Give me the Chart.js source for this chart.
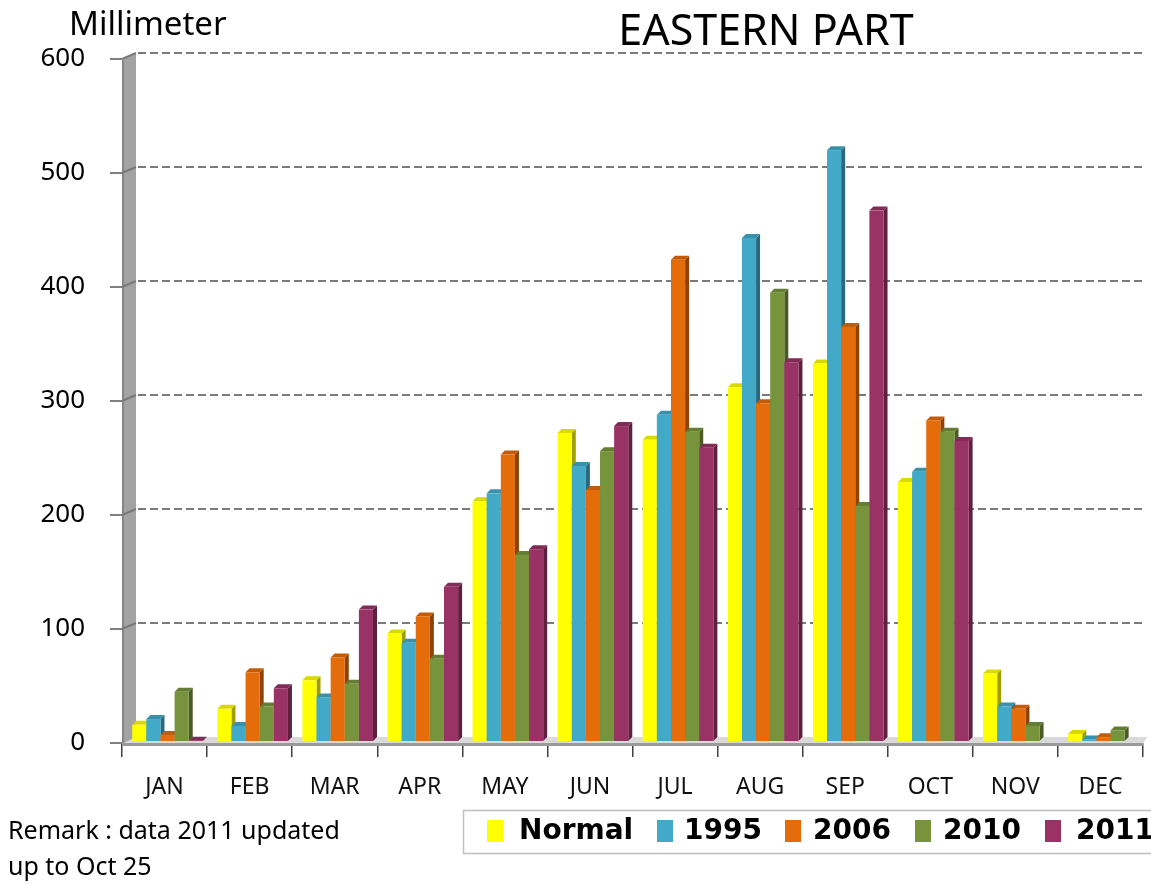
<!DOCTYPE html>
<html>
<head>
<meta charset="utf-8">
<script src="https://cdn.jsdelivr.net/npm/chart.js@4/dist/chart.umd.min.js"></script>
<style>
html,body{margin:0;padding:0;background:#fff;}
#wrap{position:relative;width:1151px;height:884px;}
</style>
</head>
<body>
<div id="wrap"><canvas id="c"></canvas></div>
<script>
const months = ['JAN','FEB','MAR','APR','MAY','JUN','JUL','AUG','SEP','OCT','NOV','DEC'];
const seriesNames = ['Normal','1995','2006','2010','2011'];
const normal = [16,30,55,96,212,272,266,312,333,229,61,8];
const y1995 = [21,15,40,88,219,243,288,443,520,238,32,3];
const y2006 = [7,62,75,111,253,222,424,298,365,283,30,5];
const y2010 = [45,32,52,74,165,256,273,395,208,273,15,11];
const y2011 = [2,48,117,137,170,278,259,334,467,265,null,null];
const yTicks = [0,100,200,300,400,500,600];
const colors = ['#ffff00','#42a9c8','#e46c0a','#77933c','#993366'];
const titleText = 'EASTERN PART';
const unitText = 'Millimeter';
const remarkLines = ['Remark : data 2011 updated','up to Oct 25'];

function shade(hex, f){
  const n = parseInt(hex.slice(1),16);
  const r=(n>>16)&255,g=(n>>8)&255,b=n&255;
  const m=v=>Math.max(0,Math.min(255,Math.round(v*f)));
  return 'rgb('+m(r)+','+m(g)+','+m(b)+')';
}

const DX=4, DY=4, SHIFT=3, WALL=14, BACK=6;

const deco = {
  id:'deco',
  beforeDatasetsDraw(chart){
    const ctx=chart.ctx, a=chart.chartArea, ys=chart.scales.y;
    ctx.save();
    ctx.fillStyle='#d9d9d9';
    ctx.beginPath();
    ctx.moveTo(a.left,a.bottom+1); ctx.lineTo(a.left+WALL,a.bottom-BACK);
    ctx.lineTo(a.right+4,a.bottom-BACK); ctx.lineTo(a.right,a.bottom+1); ctx.closePath(); ctx.fill();
    ctx.strokeStyle='#9a9a9a'; ctx.lineWidth=3;
    ctx.beginPath(); ctx.moveTo(a.left,a.bottom+1.5); ctx.lineTo(a.right,a.bottom+1.5); ctx.stroke();
    ctx.fillStyle='#a3a3a3';
    ctx.beginPath();
    ctx.moveTo(a.left,a.top+1); ctx.lineTo(a.left+WALL,a.top-BACK);
    ctx.lineTo(a.left+WALL,a.bottom-BACK); ctx.lineTo(a.left,a.bottom+1); ctx.closePath(); ctx.fill();
    ctx.strokeStyle='#858585'; ctx.lineWidth=2;
    ctx.beginPath(); ctx.moveTo(a.left+1,a.top+1); ctx.lineTo(a.left+1,a.bottom); ctx.stroke();
    ctx.strokeStyle='#7a7a7a'; ctx.lineWidth=2;
    yTicks.forEach(v=>{
      if(v===0) return;
      const p=ys.getPixelForValue(v);
      ctx.setLineDash([]);
      ctx.beginPath(); ctx.moveTo(a.left,p); ctx.lineTo(a.left+WALL,p-BACK); ctx.stroke();
      ctx.setLineDash([8,4]);
      ctx.beginPath(); ctx.moveTo(a.left+WALL+2,p-BACK); ctx.lineTo(a.right,p-BACK); ctx.stroke();
    });
    ctx.setLineDash([]);
    ctx.restore();
  },
  afterDatasetsDraw(chart){
    const ctx=chart.ctx;
    ctx.save();
    chart.data.datasets.forEach((ds,i)=>{
      const meta=chart.getDatasetMeta(i);
      const c=colors[i];
      meta.data.forEach((el,j)=>{
        if(ds.data[j]==null) return;
        const p=el.getProps(['x','y','base','width'],true);
        const l=p.x-p.width/2+SHIFT, r=p.x+p.width/2+SHIFT, t=p.y, b=p.base-1;
        ctx.fillStyle=shade(c,0.62);
        ctx.beginPath(); ctx.moveTo(r,t); ctx.lineTo(r+DX,t-DY); ctx.lineTo(r+DX,b-DY); ctx.lineTo(r,b); ctx.closePath(); ctx.fill();
        ctx.fillStyle=shade(c,0.85);
        ctx.beginPath(); ctx.moveTo(l,t); ctx.lineTo(l+DX,t-DY); ctx.lineTo(r+DX,t-DY); ctx.lineTo(r,t); ctx.closePath(); ctx.fill();
        ctx.fillStyle=c;
        ctx.fillRect(l,t,r-l,b-t);
      });
    });
    ctx.restore();
  },
  afterDraw(chart){
    const ctx=chart.ctx;
    ctx.save();
    ctx.fillStyle='#000';
    ctx.textBaseline='alphabetic';
    ctx.textAlign='center';
    ctx.font='43px "Noto Sans"';
    ctx.fillText(titleText,766,45);
    ctx.textAlign='left';
    ctx.font='33px "Noto Sans"';
    ctx.fillText(unitText,69,35);
    ctx.textBaseline='middle';
    ctx.font='25px "Noto Sans"';
    ctx.fillText(remarkLines[0],8,832);
    ctx.fillText(remarkLines[1],8,868);
    ctx.strokeStyle='#bfbfbf'; ctx.lineWidth=1.5;
    ctx.strokeRect(463.5,810.5,700,43);
    const sq=[487,657,785,915,1045], tx=[519,684,813,943,1076];
    ctx.font='bold 28px "DejaVu Sans"';
    seriesNames.forEach((n,i)=>{
      ctx.fillStyle=colors[i];
      ctx.fillRect(sq[i],820,16,22);
      ctx.fillStyle='#000';
      ctx.fillText(n,tx[i],832);
    });
    ctx.restore();
  }
};

const seriesData=[normal,y1995,y2006,y2010,y2011];
new Chart(document.getElementById('c'),{
  type:'bar',
  data:{
    labels:months,
    datasets:seriesNames.map((n,i)=>({label:n,data:seriesData[i],backgroundColor:'rgba(0,0,0,0)',borderWidth:0}))
  },
  options:{
    responsive:true, maintainAspectRatio:false, animation:false,
    layout:{padding:{top:59,right:8,left:0,bottom:0}},
    categoryPercentage:0.83, barPercentage:1.0,
    plugins:{legend:{display:false},title:{display:false},tooltip:{enabled:false}},
    scales:{
      x:{
        afterFit(s){s.height=141;},
        grid:{display:true,drawOnChartArea:false,drawTicks:true,tickLength:14,offset:true,color:'#404040',lineWidth:1.5},
        border:{display:false},
        ticks:{color:'#111',font:{family:'"Noto Sans"',size:23},padding:17}
      },
      y:{
        min:0,max:600,
        afterFit(s){s.width=122;},
        afterBuildTicks(s){s.ticks=yTicks.map(v=>({value:v}));},
        grid:{display:true,drawOnChartArea:false,drawTicks:true,tickLength:12,color:'#808080',lineWidth:2},
        border:{display:false},
        ticks:{color:'#000',font:{family:'"Noto Sans"',size:26},padding:25}
      }
    }
  },
  plugins:[deco]
});
</script>
</body>
</html>
